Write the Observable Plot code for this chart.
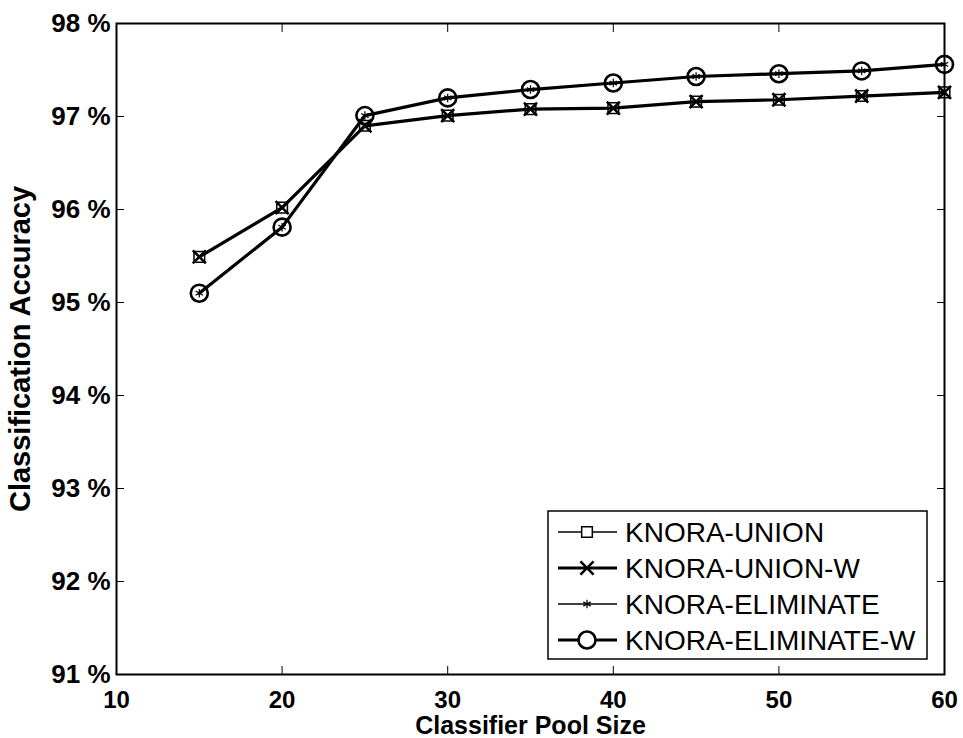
<!DOCTYPE html>
<html>
<head>
<meta charset="utf-8">
<script src="https://cdn.jsdelivr.net/npm/d3@7"></script>
<script src="https://cdn.jsdelivr.net/npm/@observablehq/plot@0.6"></script>
<style>
  html, body { margin: 0; padding: 0; background: white; }
  #wrap { position: relative; width: 963px; height: 738px; }
  #legend { position: absolute; left: 547px; top: 510px; }
</style>
</head>
<body>
<div id="wrap"></div>
<script>
// ---- data ----
const poolSizes = [15, 20, 25, 30, 35, 40, 45, 50, 55, 60];
const knoraUnion     = [95.49, 96.02, 96.90, 97.01, 97.08, 97.09, 97.16, 97.18, 97.22, 97.26];
const knoraUnionW    = [95.49, 96.02, 96.90, 97.01, 97.08, 97.09, 97.16, 97.18, 97.22, 97.26];
const knoraElim      = [95.10, 95.81, 97.01, 97.20, 97.29, 97.36, 97.43, 97.46, 97.49, 97.56];
const knoraElimW     = [95.10, 95.81, 97.01, 97.20, 97.29, 97.36, 97.43, 97.46, 97.49, 97.56];
const seriesNames = ["KNORA-UNION", "KNORA-UNION-W", "KNORA-ELIMINATE", "KNORA-ELIMINATE-W"];
const xTicks = [10, 20, 30, 40, 50, 60];
const yTicks = [91, 92, 93, 94, 95, 96, 97, 98];

const seriesValues = [knoraUnion, knoraUnionW, knoraElim, knoraElimW];
const styles = [
  {symbol: "square",   r: 6,   dotStroke: 1.5, lineWidth: 1.5},
  {symbol: "times",    r: 6,   dotStroke: 2.5, lineWidth: 3.2},
  {symbol: "asterisk", r: 4,   dotStroke: 1.2, lineWidth: 1.5},
  {symbol: "circle",   r: 8.5, dotStroke: 2.6, lineWidth: 3.2}
];
const tables = seriesValues.map((vals, i) =>
  poolSizes.map((x, j) => ({x, y: vals[j], series: seriesNames[i]})));

const marks = [];
tables.forEach((t, i) => {
  marks.push(Plot.line(t, {x: "x", y: "y", stroke: "black", strokeWidth: styles[i].lineWidth}));
});
tables.forEach((t, i) => {
  marks.push(Plot.dot(t, {x: "x", y: "y", symbol: () => styles[i].symbol, r: styles[i].r,
    stroke: "black", strokeWidth: styles[i].dotStroke, fill: "none"}));
});

const chart = Plot.plot({
  width: 963,
  height: 738,
  marginLeft: 116,
  marginRight: 19,
  marginTop: 23,
  marginBottom: 64,
  style: {fontFamily: "'Liberation Sans', Arial, sans-serif", fontSize: "26px", fontWeight: "bold", color: "black", background: "white"},
  x: {domain: [10, 60]},
  y: {domain: [91, 98]},
  symbol: {type: "identity"},
  marks: [
    Plot.frame({stroke: "black", strokeWidth: 2}),
    Plot.axisX({anchor: "bottom", ticks: xTicks, tickSize: -8, tickPadding: 24, tickFormat: d => String(d),
      fontSize: 24, label: null}),
    Plot.axisX({anchor: "bottom", ticks: [], label: "Classifier Pool Size", labelAnchor: "center",
      labelArrow: "none", labelOffset: 59, fontSize: 25}),
    Plot.axisX({anchor: "top", ticks: xTicks, tickSize: -8, tickFormat: () => "", label: null}),
    Plot.axisY({anchor: "left", ticks: yTicks, tickSize: -8, tickPadding: 14, tickFormat: d => d + " %",
      label: null}),
    Plot.axisY({anchor: "left", ticks: [], label: "Classification Accuracy", labelAnchor: "center",
      labelArrow: "none", labelOffset: 107, fontSize: 29}),
    Plot.axisY({anchor: "right", ticks: yTicks, tickSize: -8, tickFormat: () => "", label: null}),
    ...marks
  ]
});
document.getElementById("wrap").appendChild(chart);

// ---- legend (inside the axes, as in the original) ----
const lw = 381, lh = 150;
const legend = d3.select("#wrap").append("svg").attr("id", "legend")
  .attr("width", lw).attr("height", lh);
legend.append("rect").attr("x", 1).attr("y", 1).attr("width", lw - 2).attr("height", lh - 2)
  .attr("fill", "white").attr("stroke", "black").attr("stroke-width", 1.5);
const symbolMap = {square: d3.symbolSquare, times: d3.symbolTimes, asterisk: d3.symbolAsterisk, circle: d3.symbolCircle};
seriesNames.forEach((name, i) => {
  const cy = 22 + i * 36;
  const g = legend.append("g");
  g.append("line").attr("x1", 11).attr("x2", 70).attr("y1", cy).attr("y2", cy)
    .attr("stroke", "black").attr("stroke-width", styles[i].lineWidth);
  const s = styles[i];
  g.append("path").attr("d", d3.symbol(symbolMap[s.symbol], Math.PI * s.r * s.r)())
    .attr("transform", `translate(40,${cy})`)
    .attr("fill", "white").attr("stroke", "black").attr("stroke-width", s.dotStroke);
  g.append("text").attr("x", 78).attr("y", cy).attr("dy", "0.36em")
    .attr("font-family", "'Liberation Sans', Arial, sans-serif").attr("font-size", 28)
    .attr("fill", "black").text(name);
});
</script>
</body>
</html>
